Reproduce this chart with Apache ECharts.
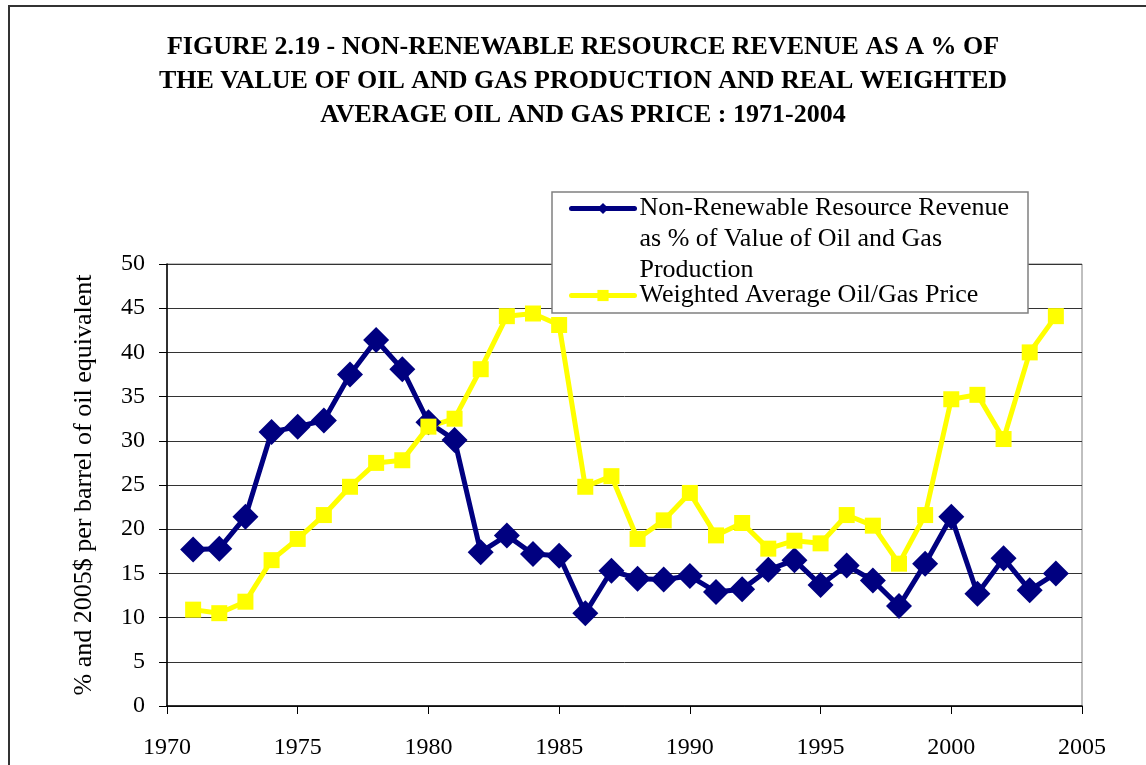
<!DOCTYPE html>
<html>
<head>
	<meta charset="utf-8">
	<title>Figure 2.19</title>
	<script src="https://cdn.jsdelivr.net/npm/echarts@6/dist/echarts.min.js"></script>
	<style>
		html, body { margin: 0; padding: 0; background: #fff; }
		#chart { width: 1146px; height: 765px; }
	</style>
</head>
<body>
<div id="chart"></div>
<script>
    // data
    var years = [1971,1972,1973,1974,1975,1976,1977,1978,1979,1980,1981,1982,1983,1984,1985,1986,1987,
        1988,1989,1990,1991,1992,1993,1994,1995,1996,1997,1998,1999,2000,2001,2002,2003,2004];
    var revenuePct = [17.7,17.8,21.4,31.0,31.6,32.3,37.5,41.4,38.1,32.1,30.1,17.4,19.3,17.2,17.0,10.5,15.3,
        14.4,14.3,14.7,12.9,13.2,15.4,16.5,13.7,15.9,14.2,11.3,16.1,21.4,12.7,16.7,13.1,15.0];
    var oilGasPrice = [10.9,10.5,11.8,16.5,18.9,21.6,24.8,27.5,27.8,31.6,32.5,38.1,44.1,44.4,43.1,24.8,26.0,
        18.9,21.0,24.1,19.3,20.7,17.8,18.7,18.4,21.6,20.4,16.1,21.6,34.7,35.2,30.2,40.0,44.1];
    var seriesNames = ['Non-Renewable Resource Revenue\nas % of Value of Oil and Gas\nProduction',
        'Weighted Average Oil/Gas Price'];
    var titleText = 'FIGURE 2.19 - NON-RENEWABLE RESOURCE REVENUE AS A % OF\n' +
        'THE VALUE OF OIL AND GAS PRODUCTION AND REAL WEIGHTED\n' +
        'AVERAGE OIL AND GAS PRICE : 1971-2004';
    var yAxisName = '% and 2005$ per barrel of oil equivalent';

    function pairs(vals) {
        var out = [];
        for (var i = 0; i < years.length; i++) out.push([years[i], vals[i]]);
        return out;
    }

    var serif = '"Liberation Serif", "Times New Roman", serif';
    var chart = echarts.init(document.getElementById('chart'), null, {renderer: 'canvas'});
    chart.setOption({
        animation: false,
        backgroundColor: '#fff',
        title: {
            text: titleText,
            left: 583,
            textAlign: 'center',
            top: 30,
            padding: 0,
            textStyle: {fontFamily: serif, fontWeight: 'bold', fontSize: 26, lineHeight: 34, color: '#000'}
        },
        graphic: [
            // outer frame of the figure
            {type: 'rect', shape: {x: 9, y: 6, width: 1300, height: 900},
                style: {fill: 'none', stroke: '#333', lineWidth: 2}, silent: true},
            // legend box
            {type: 'rect', shape: {x: 552, y: 192, width: 476, height: 121}, z: 10,
                style: {fill: '#fff', stroke: '#808080', lineWidth: 1.5}, silent: true}
        ],
        legend: {
            orient: 'vertical',
            left: 569,
            top: 131,
            padding: 0,
            z: 11,
            itemWidth: 63,
            itemHeight: 14,
            itemGap: -6,
            lineStyle: {width: 5, cap: 'round'},
            textStyle: {fontFamily: serif, fontSize: 26, lineHeight: 31, color: '#000'},
            // two blank lines first so the icon sits beside the first text line
            formatter: function (name) {
                return name === seriesNames[0] ? '\n\n' + name : name;
            },
            data: seriesNames
        },
        grid: {
            left: 167, top: 264, right: 64, bottom: 59,
            show: true, borderColor: '#808080', borderWidth: 1
        },
        xAxis: {
            type: 'value',
            min: 1970, max: 2005, interval: 5,
            axisLine: {lineStyle: {color: '#000', width: 1.5}},
            axisTick: {length: 8, lineStyle: {color: '#000'}},
            axisLabel: {fontFamily: serif, fontSize: 24, color: '#000', margin: 30,
                formatter: function (v) { return String(v); }},
            splitLine: {show: false}
        },
        yAxis: {
            type: 'value',
            min: 0, max: 50, interval: 5,
            name: yAxisName,
            nameLocation: 'middle',
            nameGap: 70,
            nameTextStyle: {fontFamily: serif, fontSize: 26, color: '#000'},
            axisLine: {show: true, lineStyle: {color: '#000', width: 1.5}},
            axisTick: {show: true, length: 8, lineStyle: {color: '#000'}},
            axisLabel: {fontFamily: serif, fontSize: 24, color: '#000', margin: 22},
            splitLine: {lineStyle: {color: '#333', width: 1}}
        },
        series: [
            {
                name: seriesNames[0],
                type: 'line',
                data: pairs(revenuePct),
                symbol: 'diamond',
                symbolSize: 26,
                color: '#000080',
                lineStyle: {width: 5, color: '#000080'},
                itemStyle: {color: '#000080'}
            },
            {
                name: seriesNames[1],
                type: 'line',
                data: pairs(oilGasPrice),
                symbol: 'rect',
                symbolSize: 16,
                color: '#ffff00',
                lineStyle: {width: 5, color: '#ffff00'},
                itemStyle: {color: '#ffff00'}
            }
        ]
    });
</script>
</body>
</html>
